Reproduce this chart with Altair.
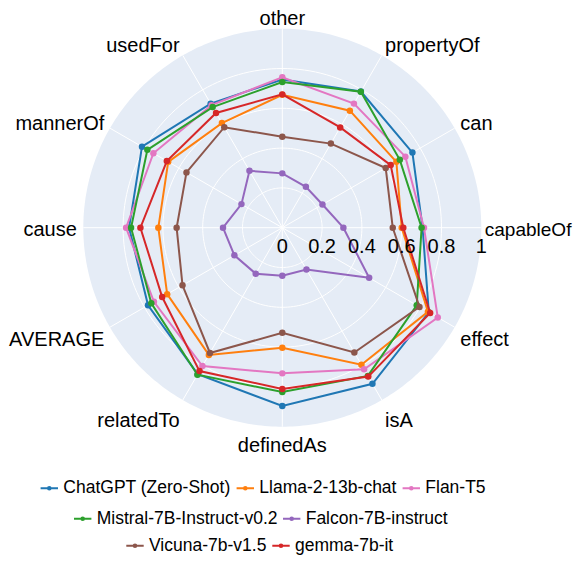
import altair as alt
import pandas as pd

# ---------------- data ----------------
categories = ["capableOf", "can", "propertyOf", "other", "usedFor", "mannerOf",
              "cause", "AVERAGE", "relatedTo", "definedAs", "isA", "effect"]

models = ["ChatGPT (Zero-Shot)", "Llama-2-13b-chat", "Flan-T5",
          "Mistral-7B-Instruct-v0.2", "Falcon-7B-instruct",
          "Vicuna-7b-v1.5", "gemma-7b-it"]
colors = ["#1f77b4", "#ff7f0e", "#e377c2", "#2ca02c", "#9467bd", "#8c564b", "#d62728"]

chatgpt = [0.705, 0.755, 0.790, 0.745, 0.720, 0.814, 0.770, 0.779, 0.850, 0.896, 0.906, 0.850]
llama   = [0.600, 0.662, 0.679, 0.668, 0.607, 0.662, 0.623, 0.668, 0.738, 0.603, 0.795, 0.845]
flan    = [0.712, 0.714, 0.720, 0.756, 0.711, 0.748, 0.785, 0.745, 0.803, 0.732, 0.822, 0.902]
mistral = [0.700, 0.682, 0.789, 0.732, 0.700, 0.783, 0.760, 0.760, 0.853, 0.826, 0.860, 0.780]
falcon  = [0.307, 0.233, 0.237, 0.273, 0.330, 0.237, 0.298, 0.278, 0.267, 0.241, 0.243, 0.504]
vicuna  = [0.555, 0.600, 0.488, 0.457, 0.583, 0.556, 0.531, 0.579, 0.727, 0.528, 0.724, 0.796]
gemma   = [0.608, 0.629, 0.582, 0.670, 0.666, 0.670, 0.713, 0.697, 0.832, 0.810, 0.864, 0.858]
series_values = [chatgpt, llama, flan, mistral, falcon, vicuna, gemma]

radial_ticks = [0, 0.2, 0.4, 0.6, 0.8, 1]
radial_tick_labels = ["0", "0.2", "0.4", "0.6", "0.8", "1"]
grid_rings = [0.2, 0.4, 0.6, 0.8]

legend_rows = [[0, 1, 2], [3, 4], [5, 6]]

# ---------------- layout constants ----------------
W, H = 566, 547
R_PX = 199.0           # pixels per unit radius
CX, CY = 274.3, 219.7  # polar centre inside the plot area
STEP = 360.0 / len(categories)
FONT = "Liberation Sans"

xs = alt.Scale(domain=[-CX / R_PX, (W - CX) / R_PX], nice=False, zero=False)
ys = alt.Scale(domain=[-(H - CY) / R_PX, CY / R_PX], nice=False, zero=False)

# long table of series (closed polygons)
rows = []
for m, vals in zip(models, series_values):
    for i, v in enumerate(vals):
        rows.append({"model": m, "idx": i, "order": i, "value": v})
    rows.append({"model": m, "idx": 0, "order": len(vals), "value": vals[0]})
series_df = pd.DataFrame(rows)

cat_df = pd.DataFrame({"category": categories, "idx": list(range(len(categories)))})
tick_df = pd.DataFrame({"r": radial_ticks, "label": radial_tick_labels})
ring_df = pd.DataFrame([{"ring": r, "deg": d} for r in grid_rings for d in range(0, 361, 2)])
disk_df = pd.DataFrame({"deg": list(range(0, 181, 1))})

X = lambda f: alt.X(f, scale=xs, axis=None)
Y = lambda f: alt.Y(f, scale=ys, axis=None)

# background disk
bg = alt.Chart(disk_df).transform_calculate(
    x="cos(datum.deg*PI/180)", y="sin(datum.deg*PI/180)", y2="-sin(datum.deg*PI/180)"
).mark_area(color="#E5ECF6", opacity=1).encode(x=X("x:Q"), y=Y("y:Q"), y2="y2:Q")

# grid rings
rings = alt.Chart(ring_df).transform_calculate(
    x="datum.ring*cos(datum.deg*PI/180)", y="datum.ring*sin(datum.deg*PI/180)"
).mark_line(color="white", strokeWidth=1).encode(
    x=X("x:Q"), y=Y("y:Q"), detail="ring:N", order="deg:Q")

# spokes
spokes = alt.Chart(cat_df).transform_calculate(
    x="0", y="0",
    x2=f"cos(datum.idx*{STEP}*PI/180)", y2=f"sin(datum.idx*{STEP}*PI/180)"
).mark_rule(color="white", strokeWidth=1).encode(
    x=X("x:Q"), y=Y("y:Q"), x2="x2:Q", y2="y2:Q")

SYMBOL = "M-1,0H1M0.15,0A0.15,0.15,0,1,1,-0.15,0A0.15,0.15,0,1,1,0.15,0"
legend_pos = [(31.3, 470.0), (64.7, 500.5), (117.0, 527.5)]

layers = [bg, rings, spokes]
for (lx, ly), members in zip(legend_pos, legend_rows):
    dom = [models[j] for j in members]
    rng = [colors[j] for j in members]
    sc = alt.Scale(domain=dom, range=rng)
    base = alt.Chart(series_df).transform_filter(
        alt.FieldOneOfPredicate(field="model", oneOf=dom)
    ).transform_calculate(
        x=f"datum.value*cos(datum.idx*{STEP}*PI/180)",
        y=f"datum.value*sin(datum.idx*{STEP}*PI/180)",
    )
    for n, j in enumerate(members):
        m = models[j]
        sub = base.transform_filter(alt.datum.model == m)
        if n == 0:
            leg = alt.Legend(
                title=None, orient="none", legendX=lx, legendY=ly,
                direction="horizontal", symbolType=SYMBOL, symbolSize=303,
                symbolStrokeWidth=2, labelFontSize=17.5, labelFont=FONT,
                labelFontWeight="normal",
                labelColor="black", labelOffset=4, columnPadding=1,
                padding=0, labelLimit=400)
        else:
            leg = None
        line = sub.mark_line(strokeWidth=2).encode(
            x=X("x:Q"), y=Y("y:Q"), order="order:Q",
            color=alt.Color("model:N", scale=sc, legend=leg))
        pts = sub.transform_filter("datum.order < 12").mark_point(
            filled=True, size=42, opacity=1, strokeWidth=0).encode(
            x=X("x:Q"), y=Y("y:Q"),
            color=alt.Color("model:N", scale=sc, legend=None))
        layers += [line, pts]

# radial tick labels
ticks = alt.Chart(tick_df).transform_calculate(y="0").mark_text(
    font=FONT, fontSize=20, color="black", align="center", baseline="alphabetic", dy=25
).encode(x=X("r:Q"), y=Y("y:Q"), text="label:N")

# category labels
lab_base = alt.Chart(cat_df).transform_calculate(
    c=f"cos(datum.idx*{STEP}*PI/180)", s=f"sin(datum.idx*{STEP}*PI/180)"
).transform_calculate(
    k="datum.s > 0.99 ? 5.5 : (datum.s > 0.01 ? 6.5 : (datum.s < -0.99 ? 10.8 : (datum.s < -0.01 ? 15 : 0)))",
    g="datum.c > 0.99 ? 3.5 : 6.5",
).transform_calculate(
    x=f"datum.c + datum.g*datum.c/{R_PX}",
    y=f"datum.s - (8.3 - 6.5*datum.s - datum.k*datum.s)/{R_PX}",
)
lab_left = lab_base.transform_filter("datum.c > 0.01 && datum.c < 0.99").mark_text(
    font=FONT, fontSize=20, color="black", align="left", baseline="alphabetic"
).encode(x=X("x:Q"), y=Y("y:Q"), text="category:N")
lab_east = lab_base.transform_filter("datum.c >= 0.99").mark_text(
    font=FONT, fontSize=19, color="black", align="left", baseline="alphabetic"
).encode(x=X("x:Q"), y=Y("y:Q"), text="category:N")
lab_right = lab_base.transform_filter("datum.c < -0.01").mark_text(
    font=FONT, fontSize=20, color="black", align="right", baseline="alphabetic"
).encode(x=X("x:Q"), y=Y("y:Q"), text="category:N")
lab_center = lab_base.transform_filter("abs(datum.c) <= 0.01").mark_text(
    font=FONT, fontSize=20, color="black", align="center", baseline="alphabetic"
).encode(x=X("x:Q"), y=Y("y:Q"), text="category:N")

layers += [ticks, lab_left, lab_east, lab_right, lab_center]

chart = alt.layer(*layers).resolve_scale(color="independent").properties(
    width=W, height=H, padding=0, autosize="none", background="white"
).configure_view(stroke=None)

chart.save("out.html", embed_options={"renderer": "svg", "actions": False})
